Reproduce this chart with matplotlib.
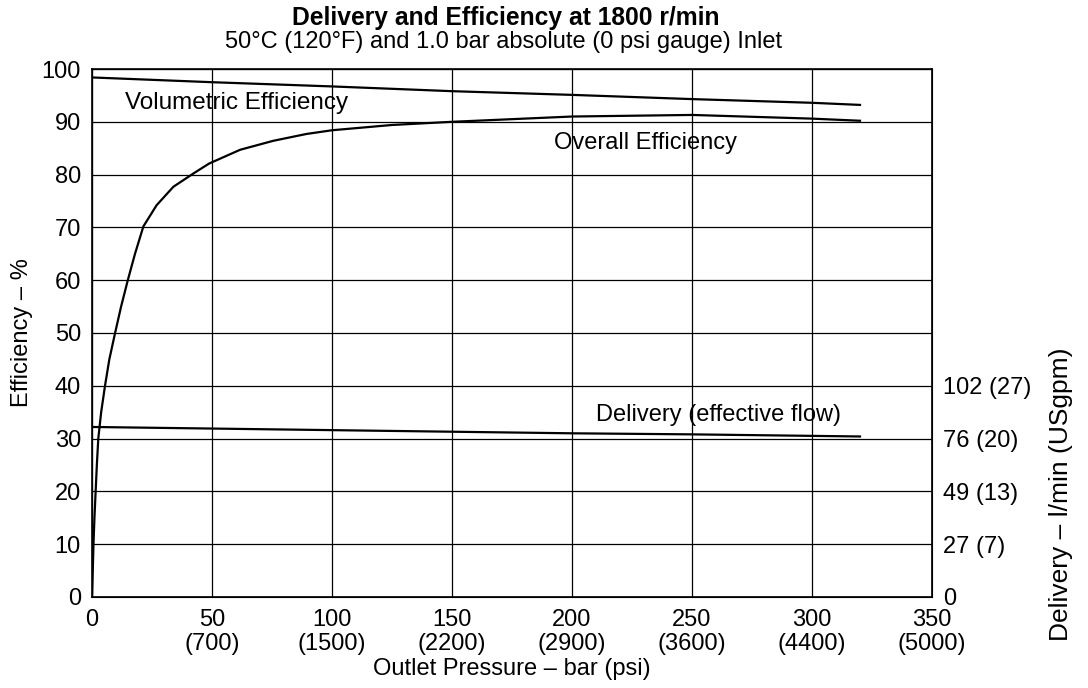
import matplotlib
matplotlib.use("Agg")
import matplotlib.pyplot as plt

plt.rcParams['font.family'] = ['Liberation Sans', 'DejaVu Sans']

# pressure (bar) vs efficiency / delivery
vol_x = [0, 50, 100, 150, 200, 250, 300, 320]
vol_y = [98.4, 97.5, 96.7, 95.8, 95.1, 94.3, 93.6, 93.2]

ovr_x = [0, 0.3, 0.6, 1.0, 1.5, 2.0, 2.6, 3.8, 5.4, 7.2, 9.6, 12.1, 14.9, 17.9, 21.4,
         26.9, 33.9, 42.2, 48.8, 61.7, 75.5, 89.4, 100, 125, 150, 200, 250, 300, 320]
ovr_y = [0, 5, 10, 15, 20, 25, 30, 35, 40, 45, 50, 55, 60, 65, 70.2,
         74.2, 77.7, 80.2, 82.1, 84.7, 86.4, 87.7, 88.4, 89.4, 90.0, 91.0, 91.3, 90.6, 90.2]

del_x = [0, 50, 100, 150, 200, 250, 320]
del_y = [32.2, 31.9, 31.6, 31.3, 31.0, 30.8, 30.4]

x_ticks = [0, 50, 100, 150, 200, 250, 300, 350]
x_labels = ["0", "50\n(700)", "100\n(1500)", "150\n(2200)", "200\n(2900)",
            "250\n(3600)", "300\n(4400)", "350\n(5000)"]
right_ticks = [0, 10, 20, 30, 40]
right_labels = ["0", "27 (7)", "49 (13)", "76 (20)", "102 (27)"]

fs = 17

fig = plt.figure(figsize=(10.88, 6.88), dpi=100)
ax = fig.add_axes([0.0846, 0.1323, 0.772, 0.7674])

ax.plot(vol_x, vol_y, color='black', lw=1.6, solid_joinstyle='round')
ax.plot(ovr_x, ovr_y, color='black', lw=1.6, solid_joinstyle='round')
ax.plot(del_x, del_y, color='black', lw=1.6, solid_joinstyle='round')

ax.set_xlim(0, 350)
ax.set_ylim(0, 100)
ax.set_xticks(x_ticks)
ax.set_xticklabels(x_labels, fontsize=fs, linespacing=1.1)
ax.set_yticks(range(0, 101, 10))
ax.tick_params(axis='both', length=0, labelsize=fs)
ax.tick_params(axis='x', pad=9)
ax.tick_params(axis='y', pad=8)
ax.grid(True, color='black', lw=0.9)
for s in ax.spines.values():
    s.set_linewidth(1.2)

ax.set_ylabel("Efficiency – %", fontsize=fs, labelpad=6)
ax.set_xlabel("Outlet Pressure – bar (psi)", fontsize=fs, labelpad=2)

ax2 = ax.twinx()
ax2.set_ylim(0, 100)
ax2.set_yticks(right_ticks)
ax2.set_yticklabels(right_labels, fontsize=fs)
ax2.tick_params(axis='y', length=0, pad=8)

ax.text(13.75, 93.6, "Volumetric Efficiency", fontsize=17.5, ha='left', va='center')
ax.text(230.7, 85.9, "Overall Efficiency", fontsize=fs, ha='center', va='center')
ax.text(261, 34.5, "Delivery (effective flow)", fontsize=fs, ha='center', va='center')

fig.text(506 / 1088, 1 - 18 / 688, "Delivery and Efficiency at 1800 r/min",
         fontsize=17.7, fontweight='bold', ha='center', va='center')
fig.text(504 / 1088, 1 - 42 / 688, "50°C (120°F) and 1.0 bar absolute (0 psi gauge) Inlet",
         fontsize=fs, ha='center', va='center')
fig.text(1061 / 1088, 1 - 494 / 688, "Delivery – l/min (USgpm)", fontsize=19,
         rotation=90, ha='center', va='center')

fig.savefig("out.png", dpi=100)
